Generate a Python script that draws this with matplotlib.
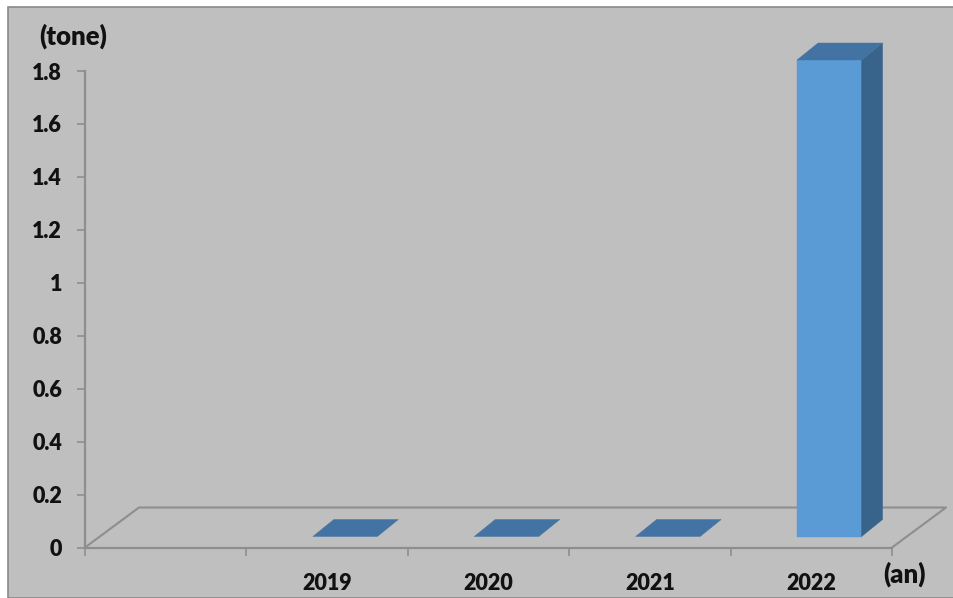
import matplotlib
matplotlib.use("Agg")
import matplotlib.pyplot as plt
from matplotlib.patches import Polygon, Rectangle

# date
categories = ["", "2019", "2020", "2021", "2022"]
values = [None, 0, 0, 0, 1.8]
y_ticks = [0, 0.2, 0.4, 0.6, 0.8, 1, 1.2, 1.4, 1.6, 1.8]
y_labels = ["0", "0.2", "0.4", "0.6", "0.8", "1", "1.2", "1.4", "1.6", "1.8"]

W, H = 954, 598
BG = "#BFBFBF"
LINE = "#8E8E8E"
FRONT = "#5B9BD5"
TOP = "#4273A3"
SIDE = "#38638A"
INK = "#111111"

plt.rcParams["font.family"] = ["Lato", "DejaVu Sans"]
plt.rcParams["font.weight"] = "heavy"

fig = plt.figure(figsize=(W / 100, H / 100), dpi=100, facecolor="white")
# fundal gri cu chenar
fig.add_artist(Rectangle((8.5 / W, 0), 1, 1 - 6.5 / H, transform=fig.transFigure,
                         facecolor=BG, edgecolor="#8A8A8A", linewidth=1.2, zorder=-1))

ax = fig.add_axes([85 / W, (H - 547.5) / H, (892 - 85) / W, (547.5 - 71) / H])
ax.patch.set_visible(False)
ax.set_xlim(0, len(categories))
ax.set_ylim(0, 1.8)

# cati pixeli inseamna o unitate pe fiecare axa
px = len(categories) / (892 - 85)
py = 1.8 / (547.5 - 71)

# adancimea podelei si a coloanelor, in pixeli
floor_dx, floor_dy = 54 * px, 40 * py
depth_dx, depth_dy = 21 * px, 17 * py
shift_dx, shift_dy = 18 * px, 11 * py
bar_w = 0.4


def add_poly(pts, color, z):
    ax.add_patch(Polygon(pts, closed=True, facecolor=color, edgecolor=color,
                         linewidth=0.3, clip_on=False, zorder=z))


# podeaua
n = len(categories)
ax.plot([0, floor_dx, n + floor_dx, n], [0, floor_dy, floor_dy, 0], color=LINE,
        linewidth=1.5, clip_on=False, zorder=1)

for i, v in enumerate(values):
    if v is None:
        continue
    x0 = i + 0.5 - bar_w / 2 + shift_dx
    x1 = x0 + bar_w
    y0 = shift_dy
    y1 = y0 + v
    if v > 0:
        add_poly([(x0, y0), (x1, y0), (x1, y1), (x0, y1)], FRONT, 3)
        add_poly([(x1, y0), (x1 + depth_dx, y0 + depth_dy), (x1 + depth_dx, y1 + depth_dy), (x1, y1)], SIDE, 3)
    add_poly([(x0, y1), (x1, y1), (x1 + depth_dx, y1 + depth_dy), (x0 + depth_dx, y1 + depth_dy)], TOP, 3)

for s in ["top", "right"]:
    ax.spines[s].set_visible(False)
for s in ["left", "bottom"]:
    ax.spines[s].set_color(LINE)
    ax.spines[s].set_linewidth(1.6)

ax.set_yticks(y_ticks)
ax.set_yticklabels(y_labels, va="center_baseline")
ax.set_xticks(range(n + 1))
ax.set_xticklabels([])
ax.set_xticks([i + 0.5 for i in range(n)], labels=categories, minor=True)
ax.tick_params(axis="y", length=6, width=1.2, color=LINE, pad=10.5, labelsize=15.5, labelcolor=INK)
ax.tick_params(axis="x", which="major", length=6, width=1.2, color=LINE)
ax.tick_params(axis="x", which="minor", length=0, pad=18, labelsize=15.5, labelcolor=INK)

fig.text(73 / W, 1 - 36 / H, "(tone)", ha="center", va="center", fontsize=18.5, color=INK)
fig.text(905 / W, 1 - 574 / H, "(an)", ha="center", va="center", fontsize=18.5, color=INK)

fig.savefig("out.png", dpi=100, facecolor="white")
